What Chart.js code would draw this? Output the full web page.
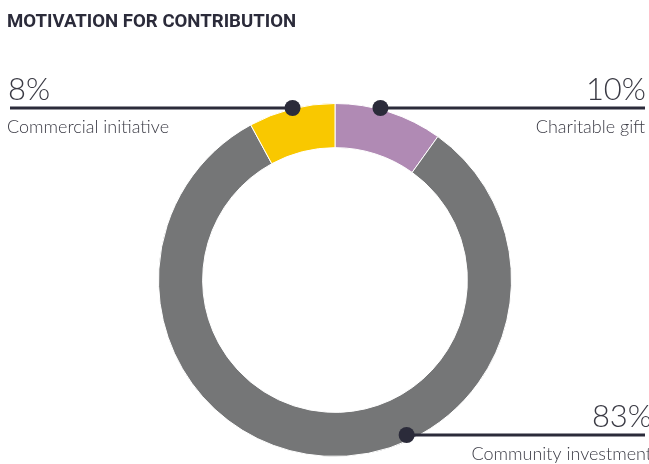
<!DOCTYPE html>
<html lang="en">
<head>
  <meta charset="UTF-8" />
  <title>Motivation for contribution</title>
  <script src="https://cdn.jsdelivr.net/npm/chart.js"></script>
  <style>
    html, body { margin: 0; padding: 0; background: #fff; }
    #wrap { width: 649px; height: 464px; position: relative; }
  </style>
</head>
<body>
  <div id="wrap">
    <canvas id="grafico"></canvas>
  </div>

  <script>
    const titulo = "MOTIVATION FOR CONTRIBUTION";
    const categorias = ["Charitable gift", "Community investment", "Commercial initiative"];
    const valores = [10, 83, 8];
    const rotulos = ["10%", "83%", "8%"];
    const cores = ["#b08ab4", "#757677", "#f9c800"];

    // onde fica cada rotulo: lado, angulo da bolinha (graus a partir do topo), y da linha
    const chamadas = [
      { lado: "right", angulo: 15, y: 108 },
      { lado: "right", angulo: 155, y: 435 },
      { lado: "left", angulo: -14, y: 108 },
    ];

    const fonte = "Lato, 'Open Sans', sans-serif";
    const escuro = "#2b2b3a";

    const pluginChamadas = {
      id: "chamadas",
      afterDraw(chart) {
        const ctx = chart.ctx;
        const arco = chart.getDatasetMeta(0).data[0];
        const cx = arco.x, cy = arco.y, r = arco.outerRadius;

        ctx.save();
        // titulo
        ctx.fillStyle = escuro;
        ctx.font = "bold 18.6px Roboto, sans-serif";
        ctx.textAlign = "left";
        ctx.textBaseline = "alphabetic";
        ctx.fillText(titulo, 7, 27);

        chamadas.forEach((c, i) => {
          const a = (c.angulo - 90) * Math.PI / 180;
          const rr = i === 1 ? r - 7 : r - 1;
          const px = cx + rr * Math.cos(a);
          const py = c.y;
          const xFim = c.lado === "left" ? 10 : 645;

          ctx.strokeStyle = escuro;
          ctx.lineWidth = 3;
          ctx.beginPath();
          ctx.moveTo(px, py);
          ctx.lineTo(xFim, py);
          ctx.stroke();

          ctx.fillStyle = escuro;
          ctx.beginPath();
          ctx.arc(px, py, 8, 0, Math.PI * 2);
          ctx.fill();

          ctx.fillStyle = "#3a3a44";
          ctx.textAlign = c.lado === "left" ? "left" : "right";
          const xt = c.lado === "left" ? 8 : (i === 1 ? 652 : 646);
          ctx.font = "300 31px " + fonte;
          ctx.fillText(rotulos[i], xt, py - 8);
          ctx.font = "300 18px " + fonte;
          ctx.fillText(categorias[i], c.lado === "left" ? 7 : (i === 1 ? 652 : 645), py + 25);
        });
        ctx.restore();
      }
    };

    const ctxGrafico = document.getElementById("grafico").getContext("2d");
    new Chart(ctxGrafico, {
      type: "doughnut",
      data: {
        labels: categorias,
        datasets: [{
          data: valores,
          backgroundColor: cores,
          borderColor: "#ffffff",
          borderWidth: 1,
        }],
      },
      options: {
        responsive: true,
        maintainAspectRatio: false,
        animation: false,
        cutout: "75%",
        layout: {
          padding: { left: 158, top: 103, right: 137, bottom: 7 },
        },
        plugins: {
          legend: { display: false },
          tooltip: { enabled: false },
        },
      },
      plugins: [pluginChamadas],
    });
  </script>
</body>
</html>
